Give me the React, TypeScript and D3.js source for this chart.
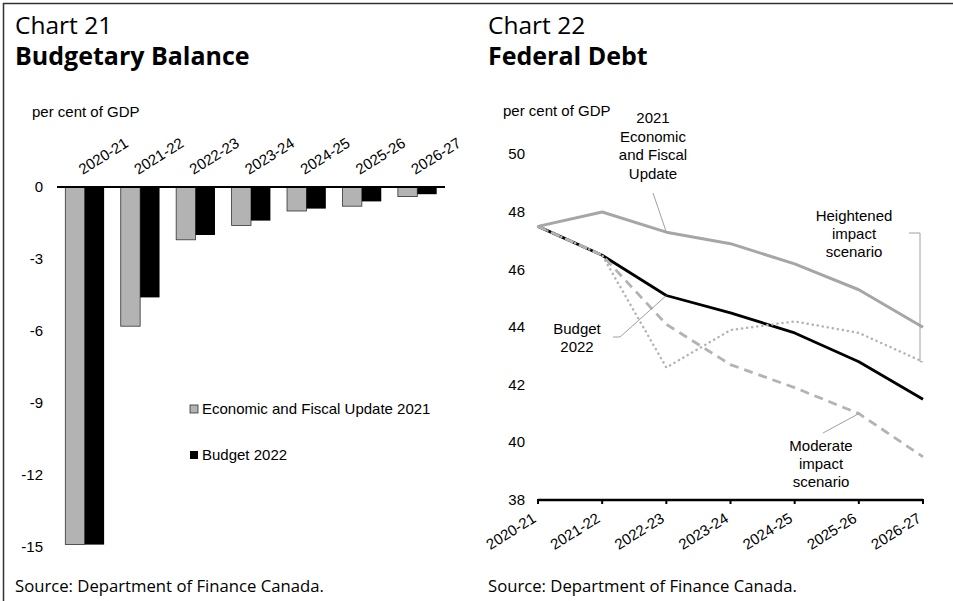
import React from "react";
import * as d3 from "d3";

const years = ["2020-21", "2021-22", "2022-23", "2023-24", "2024-25", "2025-26", "2026-27"];

// Chart 21 – budgetary balance, per cent of GDP
const balanceEFU2021 = [-14.9, -5.8, -2.2, -1.6, -1.0, -0.8, -0.4];
const balanceBudget2022 = [-14.9, -4.6, -2.0, -1.4, -0.9, -0.6, -0.3];
const balanceTicks = [0, -3, -6, -9, -12, -15];
const balanceSeries = ["Economic and Fiscal Update 2021", "Budget 2022"];

// Chart 22 – federal debt, per cent of GDP
const debtEFU2021 = [47.5, 48.0, 47.3, 46.9, 46.2, 45.3, 44.0];
const debtBudget2022 = [47.5, 46.5, 45.1, 44.5, 43.8, 42.8, 41.5];
const debtModerate = [47.5, 46.5, 44.1, 42.7, 41.9, 41.0, 39.5];
const debtHeightened = [47.5, 46.5, 42.6, 43.9, 44.2, 43.8, 42.8];
const debtTicks = [38, 40, 42, 44, 46, 48, 50];

const TITLE_FONT = "'Open Sans', 'Noto Sans', sans-serif";
const AX_FONT = "'Liberation Sans', Arial, sans-serif";
const AX_SIZE = 15;

export default function App() {
  // ---------- left chart scales ----------
  const xL = d3.scaleBand<string>().domain(years).range([57, 445]).paddingInner(0.3).paddingOuter(0.15);
  const xL1 = d3.scaleBand<string>().domain(balanceSeries).range([0, xL.bandwidth()]);
  const yL = d3.scaleLinear().domain([-15, 0]).range([547, 187]);
  const balanceData = [balanceEFU2021, balanceBudget2022];
  const barFill = ["#b3b3b3", "#000000"];

  // ---------- right chart scales ----------
  const xR = d3.scalePoint<string>().domain(years).range([538, 923]);
  const yR = d3.scaleLinear().domain([38, 50]).range([500, 154.4]);
  const lineGen = (vals: number[]) =>
    d3.line<number>().x((_, i) => xR(years[i]) as number).y((v) => yR(v))(vals) as string;

  const yi = (arr: number[], yr: string) => yR(arr[years.indexOf(yr)]);
  const xi = (yr: string) => xR(yr) as number;

  return (
    <svg width={953} height={601} style={{ position: "absolute", left: 0, top: 0, background: "#fff" }}>
      <rect x={0} y={0} width={953} height={601} fill="#fff" />
      {/* frame */}
      <line x1={3} x2={953} y1={3.5} y2={3.5} stroke="#333" strokeWidth={1.5} />
      <line x1={3.5} x2={3.5} y1={3} y2={601} stroke="#333" strokeWidth={1.5} />

      {/* ---------------- Chart 21 ---------------- */}
      <text x={15} y={34} fontFamily={TITLE_FONT} fontSize={24.5} fill="#000">Chart 21</text>
      <text x={15} y={65} fontFamily={TITLE_FONT} fontSize={25} fontWeight="bold" fill="#000">Budgetary Balance</text>
      <text x={32} y={117} fontFamily={AX_FONT} fontSize={AX_SIZE} fill="#000">per cent of GDP</text>

      {balanceTicks.map((t) => (
        <text key={t} x={43} y={yL(t) + 5} textAnchor="end" fontFamily={AX_FONT} fontSize={AX_SIZE} fill="#000">
          {t}
        </text>
      ))}

      {years.map((yr, i) => (
        <g key={yr} transform={`translate(${xL(yr)},0)`}>
          {balanceSeries.map((s, k) => {
            const v = balanceData[k][i];
            return (
              <rect
                key={s}
                x={xL1(s) as number}
                y={yL(0)}
                width={xL1.bandwidth()}
                height={yL(v) - yL(0)}
                fill={barFill[k]}
                stroke={k === 0 ? "#333" : "none"}
                strokeWidth={0.8}
              />
            );
          })}
        </g>
      ))}
      <line x1={57} x2={445} y1={yL(0)} y2={yL(0)} stroke="#000" strokeWidth={2.2} />

      {years.map((yr) => {
        const cx = (xL(yr) as number) + xL.bandwidth() / 2;
        return (
          <text
            key={yr}
            transform={`translate(${cx - 2},175) rotate(-32)`}
            fontFamily={AX_FONT}
            fontSize={AX_SIZE}
            fill="#000"
          >
            {yr}
          </text>
        );
      })}

      {/* legend */}
      <rect x={190} y={405} width={8} height={8} fill="#b3b3b3" stroke="#333" strokeWidth={0.8} />
      <text x={202} y={414} fontFamily={AX_FONT} fontSize={AX_SIZE} fill="#000">{balanceSeries[0]}</text>
      <rect x={190} y={451} width={8} height={8} fill="#000" />
      <text x={202} y={460} fontFamily={AX_FONT} fontSize={AX_SIZE} fill="#000">{balanceSeries[1]}</text>

      <text x={15} y={592} fontFamily={TITLE_FONT} fontSize={16.7} fill="#000">Source: Department of Finance Canada.</text>

      {/* ---------------- Chart 22 ---------------- */}
      <text x={488} y={34} fontFamily={TITLE_FONT} fontSize={24.5} fill="#000">Chart 22</text>
      <text x={488} y={65} fontFamily={TITLE_FONT} fontSize={25} fontWeight="bold" fill="#000">Federal Debt</text>
      <text x={503} y={116} fontFamily={AX_FONT} fontSize={AX_SIZE} fill="#000">per cent of GDP</text>

      {debtTicks.map((t) => (
        <text key={t} x={525} y={yR(t) + 5} textAnchor="end" fontFamily={AX_FONT} fontSize={AX_SIZE} fill="#000">
          {t}
        </text>
      ))}

      {/* lines */}
      <path d={lineGen(debtBudget2022)} fill="none" stroke="#000" strokeWidth={2.8} strokeLinejoin="round" />
      <path d={lineGen(debtModerate)} fill="none" stroke="#b3b3b3" strokeWidth={2.8} strokeDasharray="9,6" />
      <path
        d={lineGen(debtHeightened)}
        fill="none"
        stroke="#b3b3b3"
        strokeWidth={2.5}
        strokeDasharray="0.1,5"
        strokeLinecap="round"
      />
      <path d={lineGen(debtEFU2021)} fill="none" stroke="#a6a6a6" strokeWidth={3} strokeLinejoin="round" />

      {/* x axis */}
      <line x1={538} x2={923} y1={500} y2={500} stroke="#000" strokeWidth={2.5} />
      {years.map((yr) => (
        <line key={yr} x1={xi(yr)} x2={xi(yr)} y1={499} y2={504} stroke="#000" strokeWidth={2} />
      ))}
      {years.map((yr) => (
        <text
          key={yr}
          transform={`translate(${xi(yr) - 1},521) rotate(-32)`}
          textAnchor="end"
          fontFamily={AX_FONT}
          fontSize={AX_SIZE}
          fill="#000"
        >
          {yr}
        </text>
      ))}

      {/* annotations */}
      <g fontFamily={AX_FONT} fontSize={AX_SIZE} fill="#000" textAnchor="middle">
        <text x={653} y={123}>2021</text>
        <text x={653} y={141.5}>Economic</text>
        <text x={653} y={160}>and Fiscal</text>
        <text x={653} y={178.5}>Update</text>

        <text x={854} y={221}>Heightened</text>
        <text x={854} y={239}>impact</text>
        <text x={854} y={257}>scenario</text>

        <text x={577} y={334}>Budget</text>
        <text x={577} y={352}>2022</text>

        <text x={821} y={451}>Moderate</text>
        <text x={821} y={469}>impact</text>
        <text x={821} y={487}>scenario</text>
      </g>
      <g fill="none" stroke="#a0a0a0" strokeWidth={1}>
        <path d={`M653,193 L${xi("2022-23")},${yi(debtEFU2021, "2022-23")}`} />
        <path d={`M909,233 H920 V${yi(debtHeightened, "2026-27")} H${xi("2026-27")}`} />
        <path d={`M613,337 H620 L${xi("2022-23")},${yi(debtBudget2022, "2022-23")}`} />
        <path d={`M823,433 L${xi("2025-26")},${yi(debtModerate, "2025-26")}`} />
      </g>

      <text x={488} y={592} fontFamily={TITLE_FONT} fontSize={16.7} fill="#000">Source: Department of Finance Canada.</text>
    </svg>
  );
}
